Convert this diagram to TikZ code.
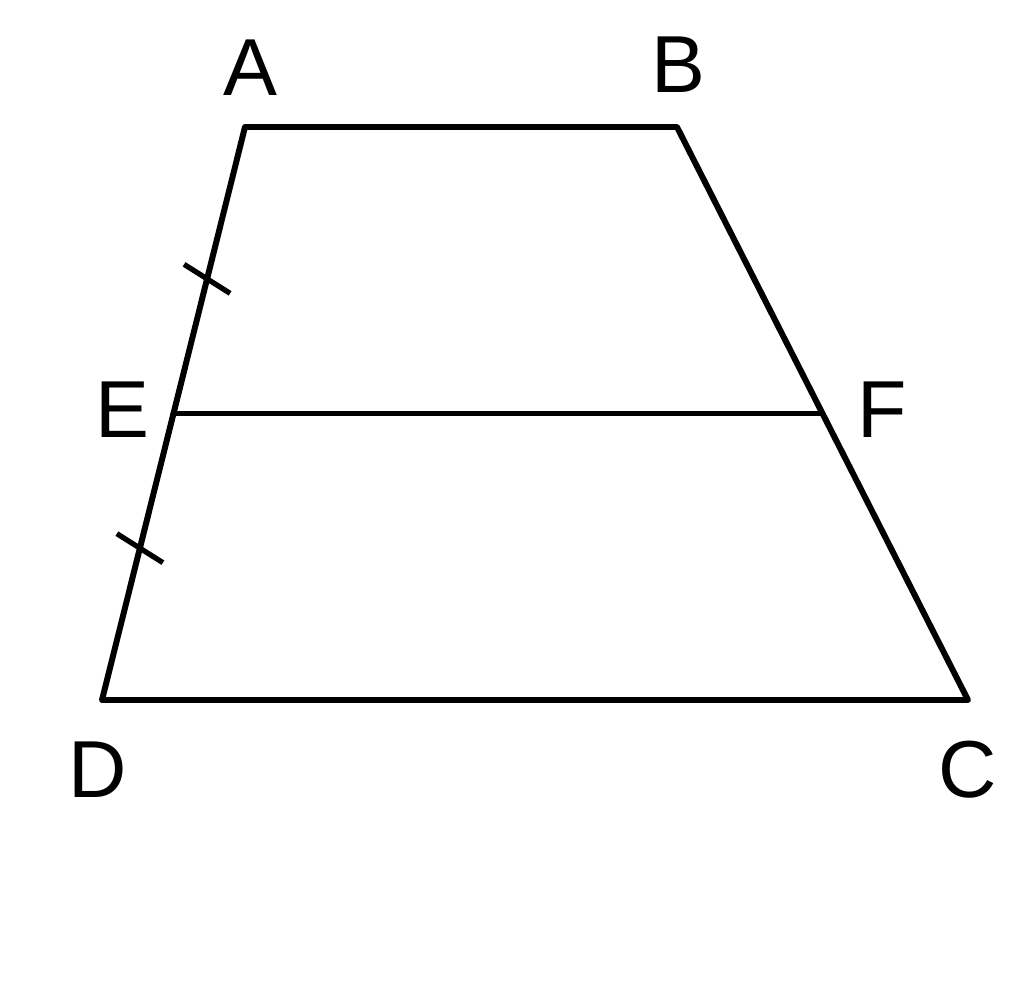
\documentclass[tikz,border=0pt]{standalone}
\usepackage{fontspec}
\setmainfont{Liberation Sans}
\usetikzlibrary{calc}
\tikzset{
  side/.style={line width=1.7pt, line cap=round, line join=round},
  tick/.style={line width=1.5pt},
  vlabel/.style={font=\fontsize{23}{28}\selectfont, inner sep=0pt}
}
\begin{document}
\begin{tikzpicture}
        \useasboundingbox (0,0) rectangle (10.24,-10.01);

        % Vertices
        \coordinate (A) at (2.45,-1.27);
        \coordinate (B) at (6.77,-1.27);
        \coordinate (C) at (9.68,-7.00);
        \coordinate (D) at (1.02,-7.00);
        \coordinate (E) at ($(A)!0.5!(D)$);
        \coordinate (F) at ($(B)!0.5!(C)$);

        % Draw trapezoid and midline
        \draw [side] (A) -- (B) -- (C) -- (D) -- cycle;
        \draw [side] (E) -- (F);

        % Draw equal marks
        \coordinate (m1) at ($(A)!0.53!(E)$);
        \coordinate (m2) at ($(E)!0.47!(D)$);
        \draw [tick] ($(m1)+(-0.23,0.145)$) -- ($(m1)+(0.23,-0.145)$);
        \draw [tick] ($(m2)+(-0.23,0.145)$) -- ($(m2)+(0.23,-0.145)$);

        % Draw labels
        \node [vlabel] (lA) at (2.50,-0.68) {A};
        \node [vlabel] (lB) at (6.78,-0.65) {B};
        \node [vlabel] (lC) at (9.68,-7.70) {C};
        \node [vlabel] (lD) at (0.98,-7.70) {D};
        \node [vlabel] (lE) at (1.22,-4.10) {E};
        \node [vlabel] (lF) at (8.82,-4.10) {F};
      \end{tikzpicture}
\end{document}
